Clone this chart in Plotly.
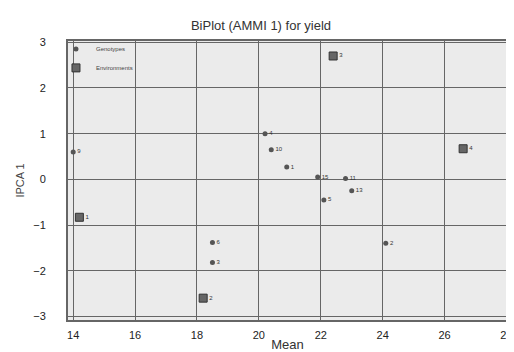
import plotly.graph_objects as go

# Genotype scores (Mean yield, IPCA 1)
gen_labels = ["9", "4", "10", "1", "15", "11", "5", "13", "2", "6", "3"]
gen_mean = [14.0, 20.2, 20.4, 20.9, 21.9, 22.8, 22.1, 23.0, 24.1, 18.5, 18.5]
gen_ipca = [0.60, 1.00, 0.65, 0.27, 0.05, 0.02, -0.45, -0.25, -1.40, -1.38, -1.82]

# Environment scores
env_labels = ["1", "2", "3", "4"]
env_mean = [14.2, 18.2, 22.4, 26.6]
env_ipca = [-0.83, -2.60, 2.70, 0.67]

x_ticks = [14, 16, 18, 20, 22, 24, 26, 28]
y_ticks = [-3, -2, -1, 0, 1, 2, 3]

fig = go.Figure()
fig.add_trace(go.Scatter(
    x=gen_mean, y=gen_ipca, mode="markers+text", name="Genotypes",
    text=gen_labels, textposition="middle right",
    textfont=dict(size=6, color="#333"),
    marker=dict(symbol="circle", size=5, color="#555"),
))
fig.add_trace(go.Scatter(
    x=env_mean, y=env_ipca, mode="markers+text", name="Environments",
    text=env_labels, textposition="middle right",
    textfont=dict(size=6, color="#333"),
    marker=dict(symbol="square", size=8, color="#666", line=dict(color="#333", width=1)),
))

fig.update_layout(
    width=506, height=344,
    margin=dict(l=59, r=6, t=32, b=31, autoexpand=False),
    paper_bgcolor="white", plot_bgcolor="#ebebeb",
    font=dict(family="Liberation Sans, Arial", color="#222"),
    title=dict(text="BiPlot (AMMI 1) for yield", x=0.5, xanchor="center",
               y=0.95, yanchor="middle", font=dict(size=13, color="#333")),
    showlegend=True,
    legend=dict(x=-0.025, y=1.02, xanchor="left", yanchor="top",
                bgcolor="rgba(0,0,0,0)", font=dict(size=6, color="#444"),
                itemsizing="trace", tracegroupgap=8),
    shapes=[dict(type="rect", xref="paper", yref="paper", x0=0, x1=1, y0=0, y1=1,
                 line=dict(color="#666", width=2), layer="above")],
)
fig.update_xaxes(
    range=[13.8, 28.05], tickvals=x_ticks, showgrid=True, gridcolor="#666", gridwidth=1,
    zeroline=False, showline=False,
    ticks="outside", ticklen=4, tickcolor="rgba(0,0,0,0)",
    tickfont=dict(size=11, color="#222"), ticklabeloverflow="allow",
    title=dict(text="Mean", font=dict(size=13, color="#333"), standoff=0),
)
fig.update_yaxes(
    range=[-3.1, 3.05], tickvals=y_ticks, showgrid=True, gridcolor="#666", gridwidth=1,
    zeroline=False, showline=False,
    ticks="outside", ticklen=18, tickcolor="rgba(0,0,0,0)",
    tickfont=dict(size=11, color="#222"),
    title=dict(text="IPCA 1", font=dict(size=11, color="#444"), standoff=6),
)

fig.write_html("out.html")
